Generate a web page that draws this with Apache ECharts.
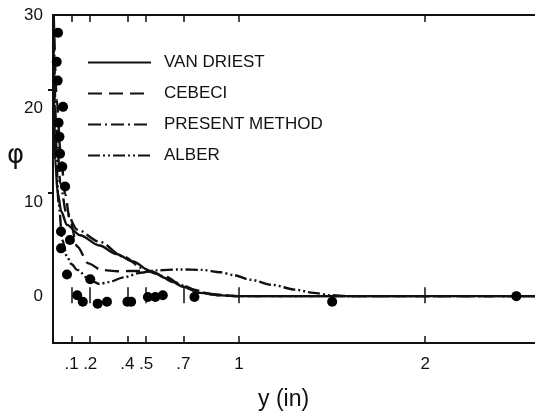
<!DOCTYPE html>
<html>
<head>
<meta charset="utf-8">
<title>phi vs y</title>
<script src="https://cdn.jsdelivr.net/npm/echarts@6/dist/echarts.min.js"></script>
<style>
  html, body { margin: 0; padding: 0; background: #fff; }
  #chart { width: 535px; height: 415px; }
</style>
</head>
<body>
<div id="chart"></div>
<script>
// 曲线数据 [y(in), phi]
const vanDriest = [[0.002, 30], [0.006, 20], [0.012, 14.5], [0.025, 11], [0.045, 9], [0.075, 7.6], [0.145, 6.5], [0.25, 5.4], [0.34, 4.5], [0.43, 3.7], [0.52, 2.7], [0.61, 1.9], [0.7, 1.0], [0.79, 0.35], [0.9, 0.08], [1.0, 0], [2.59, 0]]
const cebeci = [[0.004, 30], [0.02, 21], [0.04, 15.5], [0.065, 10.9], [0.09, 8.2], [0.13, 5.3], [0.19, 3.5], [0.26, 2.8], [0.35, 2.65], [0.46, 2.7], [0.53, 2.6], [0.6, 2.1], [0.7, 1.1], [0.8, 0.35], [0.92, 0.05], [1.0, 0], [2.59, 0]]
const presentMethod = [[0.003, 30], [0.015, 19], [0.04, 12], [0.07, 9], [0.13, 7.1], [0.25, 5.8], [0.38, 4.2], [0.48, 3.0], [0.55, 2.4], [0.65, 1.5], [0.75, 0.7], [0.85, 0.2], [1.0, 0], [2.59, 0]]
const alber = [[0.003, 30], [0.012, 18], [0.03, 10], [0.05, 6], [0.075, 4.2], [0.1, 3.4], [0.13, 2.8], [0.2, 1.7], [0.25, 1.3], [0.3, 1.5], [0.38, 2.0], [0.47, 2.5], [0.55, 2.75], [0.68, 2.85], [0.8, 2.8], [0.9, 2.55], [0.97, 2.25], [1.06, 1.75], [1.18, 1.2], [1.3, 0.7], [1.4, 0.35], [1.49, 0.1], [1.6, 0], [2.59, 0]]

// 实验点
const dotX = [0.027, 0.02, 0.025, 0.054, 0.03, 0.035, 0.038, 0.05, 0.065, 0.043, 0.043, 0.091, 0.075, 0.2, 0.13, 0.16, 0.24, 0.29, 0.4, 0.42, 0.51, 0.55, 0.59, 0.76, 1.5, 2.49]
const dotY = [28.1, 25, 23, 20.2, 18.5, 17, 15.2, 13.8, 11.7, 6.9, 5.1, 6.0, 2.3, 1.8, 0.1, -0.6, -0.8, -0.6, -0.6, -0.6, -0.1, -0.1, 0.1, -0.1, -0.6, 0]

const xTicks = [0.1, 0.2, 0.4, 0.5, 0.7, 1, 2]
const xTickLabels = ['.1', '.2', '.4', '.5', '.7', '1', '2']
const yTickLabels = [0, 10, 20, 30]
const seriesNames = ['VAN DRIEST', 'CEBECI', 'PRESENT METHOD', 'ALBER']

const ink = '#111'
const font = 'Liberation Sans'

const chart = echarts.init(document.getElementById('chart'))

const lineSeries = (name, data, dash) => ({
  name: name,
  type: 'line',
  data: data,
  xAxisIndex: 0,
  smooth: 0.3,
  smoothMonotone: 'x',
  symbol: 'none',
  lineStyle: { color: ink, width: 2.4, type: dash },
  itemStyle: { color: ink },
  z: 3
})

// 共用的 x 轴刻度
const tickAxis = (position, onZero, inside, length) => ({
  type: 'value',
  position: position,
  min: 0,
  max: 2.59,
  axisLine: { show: !onZero, onZero: onZero, lineStyle: { color: ink, width: 2 } },
  axisTick: { show: true, inside: inside, length: length, customValues: xTicks, lineStyle: { color: ink, width: 1.5 } },
  axisLabel: { show: false },
  splitLine: { show: false }
})

const bottomAxis = tickAxis('bottom', false, true, 7)
bottomAxis.axisLabel = {
  show: true,
  customValues: xTicks,
  formatter: (v) => xTickLabels[xTicks.indexOf(v)],
  color: ink,
  fontFamily: font,
  fontSize: 17,
  margin: 13
}

const option = {
  animation: false,
  backgroundColor: '#fff',
  grid: { left: 53, right: 0, top: 15, bottom: 72 },
  legend: {
    data: seriesNames,
    orient: 'vertical',
    left: 87,
    top: 54,
    itemWidth: 63,
    itemHeight: 14,
    itemGap: 14,
    padding: 0,
    itemStyle: { opacity: 0, borderWidth: 0 },
    textStyle: { color: ink, fontFamily: font, fontSize: 17, padding: [0, 0, 0, 8] }
  },
  xAxis: [
    bottomAxis,
    tickAxis('top', false, true, 7),
    tickAxis('bottom', true, false, 7),
    tickAxis('bottom', true, true, 9)
  ],
  yAxis: [
    {
      type: 'value',
      min: -5,
      max: 30,
      interval: 5,
      axisLine: { show: true, onZero: false, lineStyle: { color: ink, width: 2 } },
      axisTick: { show: false },
      axisLabel: {
        customValues: yTickLabels,
        color: ink,
        fontFamily: font,
        fontSize: 17,
        margin: 10
      },
      splitLine: { show: false }
    },
    {
      type: 'value',
      position: 'right',
      min: -5,
      max: 30,
      axisLine: { show: false },
      axisTick: { show: true, inside: true, length: 5, customValues: [11, 22], lineStyle: { color: ink, width: 2 } },
      axisLabel: { show: false },
      splitLine: { show: false }
    }
  ],
  graphic: [
    {
      type: 'text',
      left: 7,
      top: 143,
      style: { text: 'φ', fill: ink, font: '26px "DejaVu Sans"' }
    },
    {
      type: 'text',
      left: 258,
      top: 388,
      style: { text: 'y (in)', fill: ink, font: '23px "Liberation Sans"' }
    }
  ],
  series: [
    lineSeries(seriesNames[0], vanDriest, 'solid'),
    lineSeries(seriesNames[1], cebeci, [14, 7]),
    lineSeries(seriesNames[2], presentMethod, [13, 4, 2, 4]),
    lineSeries(seriesNames[3], alber, [12, 3, 2, 3, 2, 3]),
    {
      name: 'data',
      type: 'scatter',
      data: dotX.map((x, i) => [x, dotY[i]]),
      symbol: 'circle',
      symbolSize: 10,
      itemStyle: { color: '#000', opacity: 1 },
      z: 4
    }
  ]
}

chart.setOption(option)
</script>
</body>
</html>
